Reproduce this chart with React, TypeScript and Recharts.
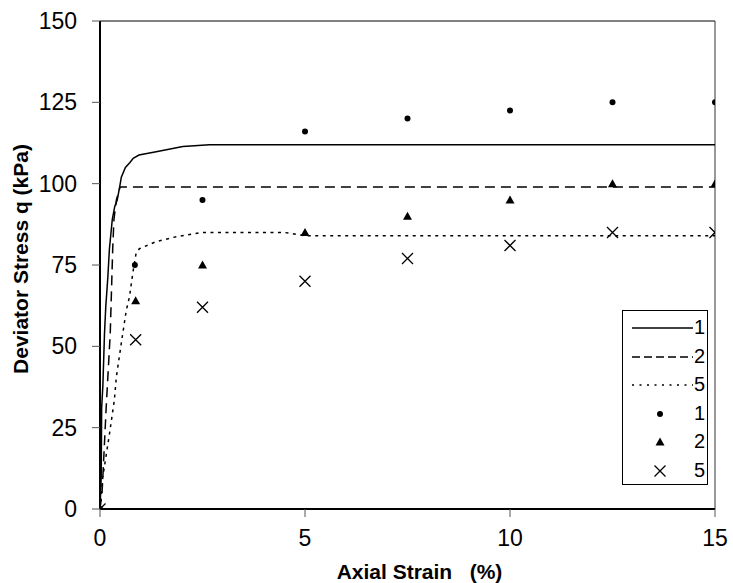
import React from 'react';
import { ComposedChart, Line, Scatter, XAxis, YAxis, ReferenceLine, Label } from 'recharts';

// test curves (strain %, deviator stress kPa)
const curve1Strain = [0, 0.03, 0.04, 0.07, 0.11, 0.14, 0.19, 0.23, 0.3, 0.36, 0.42, 0.48, 0.52, 0.62, 0.73, 0.81, 0.95, 1.37, 2.02, 2.67, 15];
const curve1Q = [0, 10, 31, 38, 54, 62, 71, 80, 89, 93, 95, 99, 102, 105, 106.5, 107.8, 108.8, 109.8, 111.4, 112, 112];
const curve2Strain = [0, 0.05, 0.07, 0.15, 0.25, 0.31, 0.34, 0.4, 0.49, 15];
const curve2Q = [0, 5, 10, 31, 54, 80, 89, 95, 99, 99];
const curve5Strain = [0, 0.07, 0.23, 0.35, 0.4, 0.52, 0.64, 0.72, 0.8, 0.88, 0.96, 1.37, 1.86, 2.5, 4.5, 5, 15];
const curve5Q = [0, 10, 23, 33.5, 40.7, 51, 61, 65.3, 72.5, 78.6, 80, 82.2, 83.7, 85, 85, 84, 84];

// measured points
const pointStrain1 = [0, 0.85, 2.5, 5, 7.5, 10, 12.5, 15];
const pointQ1 = [0, 75, 95, 116, 120, 122.5, 125, 125];
const pointStrain2 = [0, 0.87, 2.5, 5, 7.5, 10, 12.5, 15];
const pointQ2 = [0, 64, 75, 85, 90, 95, 100, 100];
const pointStrain5 = [0, 0.87, 2.5, 5, 7.5, 10, 12.5, 15];
const pointQ5 = [0, 52, 62, 70, 77, 81, 85, 85];

const xTicks = [0, 5, 10, 15];
const yTicks = [0, 25, 50, 75, 100, 125, 150];
const legendLabels = ['1', '2', '5', '1', '2', '5'];

const toPts = (xs: number[], ys: number[]) => xs.map((x, i) => ({ x, q: ys[i] }));

const FONT = '"Liberation Sans", Arial, sans-serif';

const DotShape = (p: any) => <circle cx={p.cx} cy={p.cy} r={3} fill="#000" />;
const TriShape = (p: any) => (
  <polygon points={`${p.cx},${p.cy - 4.5} ${p.cx - 4.5},${p.cy + 3.5} ${p.cx + 4.5},${p.cy + 3.5}`} fill="#000" />
);
const CrossShape = (p: any) => (
  <path
    d={`M${p.cx - 5.5},${p.cy - 5.5}L${p.cx + 5.5},${p.cy + 5.5}M${p.cx - 5.5},${p.cy + 5.5}L${p.cx + 5.5},${p.cy - 5.5}`}
    stroke="#000"
    strokeWidth={1.3}
  />
);

function LegendBox() {
  const rows = [
    <line x1={0} y1={6} x2={61} y2={6} stroke="#000" strokeWidth={1.5} />,
    <line x1={0} y1={6} x2={61} y2={6} stroke="#000" strokeWidth={1.5} strokeDasharray="8 4" />,
    <line x1={0} y1={6} x2={61} y2={6} stroke="#000" strokeWidth={1.5} strokeDasharray="2 5.5" />,
    <DotShape cx={28} cy={6} />,
    <TriShape cx={28} cy={6} />,
    <CrossShape cx={28} cy={6} />,
  ];
  return (
    <div
      style={{
        position: 'absolute', left: 622, top: 310, width: 84, height: 173,
        border: '1px solid #000', background: '#fff', fontFamily: FONT,
      }}
    >
      {rows.map((r, i) => (
        <div key={i} style={{ position: 'absolute', left: 9, top: 10 + i * 28.6, width: 74, height: 14 }}>
          <svg width={62} height={12} style={{ position: 'absolute', left: 0, top: 1, overflow: 'visible' }}>{r}</svg>
          <span style={{ position: 'absolute', right: 1, top: -5, fontSize: 20, lineHeight: '22px' }}>{legendLabels[i]}</span>
        </div>
      ))}
    </div>
  );
}

export default function App() {
  return (
    <div style={{ position: 'relative', width: 733, height: 583, background: '#fff' }}>
      <style>{'body{margin:0}'}</style>
      <ComposedChart width={733} height={583} margin={{ top: 21, right: 18, left: 0, bottom: 0 }}>
        <XAxis
          type="number"
          dataKey="x"
          domain={[0, 15]}
          ticks={xTicks}
          allowDataOverflow
          height={74}
          tickSize={8}
          tickMargin={13}
          axisLine={{ stroke: '#000', strokeWidth: 2 }}
          tickLine={{ stroke: '#555' }}
          tick={{ fontSize: 23, fill: '#000', fontFamily: FONT }}
        >
          <Label
            content={(props: any) => {
              const vb = props.viewBox;
              return (
                <text x={vb.x + vb.width / 2 + 12} y={vb.y + vb.height - 4} textAnchor="middle" fontSize={21} fontWeight="bold" fontFamily={FONT} fill="#000" style={{ whiteSpace: 'pre' }}>
                  Axial Strain   (%)
                </text>
              );
            }}
          />
        </XAxis>
        <YAxis
          type="number"
          domain={[0, 150]}
          ticks={yTicks}
          allowDataOverflow
          width={100}
          tickSize={8}
          tickMargin={15}
          axisLine={{ stroke: '#000', strokeWidth: 2 }}
          tickLine={{ stroke: '#555' }}
          tick={{ fontSize: 23, fill: '#000', fontFamily: FONT }}
        >
          <Label
            content={(props: any) => {
              const vb = props.viewBox;
              const cx = vb.x + 20;
              const cy = vb.y + vb.height / 2 - 6;
              return (
                <text x={cx} y={cy} transform={`rotate(-90 ${cx} ${cy})`} textAnchor="middle" dominantBaseline="central" fontSize={21} fontWeight="bold" fontFamily={FONT} fill="#000">
                  Deviator Stress q (kPa)
                </text>
              );
            }}
          />
        </YAxis>
        <ReferenceLine y={150} stroke="#000" strokeWidth={1} />
        <ReferenceLine x={15} stroke="#333" strokeWidth={1} />
        <Line data={toPts(curve1Strain, curve1Q)} dataKey="q" type="linear" dot={false} stroke="#000" strokeWidth={1.5} isAnimationActive={false} />
        <Line data={toPts(curve2Strain, curve2Q)} dataKey="q" type="linear" dot={false} stroke="#000" strokeWidth={1.5} strokeDasharray="10 6" isAnimationActive={false} />
        <Line data={toPts(curve5Strain, curve5Q)} dataKey="q" type="linear" dot={false} stroke="#000" strokeWidth={1.5} strokeDasharray="3 4.5" isAnimationActive={false} />
        <Scatter data={toPts(pointStrain1, pointQ1)} dataKey="q" shape={DotShape} isAnimationActive={false} />
        <Scatter data={toPts(pointStrain2, pointQ2)} dataKey="q" shape={TriShape} isAnimationActive={false} />
        <Scatter data={toPts(pointStrain5, pointQ5)} dataKey="q" shape={CrossShape} isAnimationActive={false} />
      </ComposedChart>
      <LegendBox />
    </div>
  );
}
